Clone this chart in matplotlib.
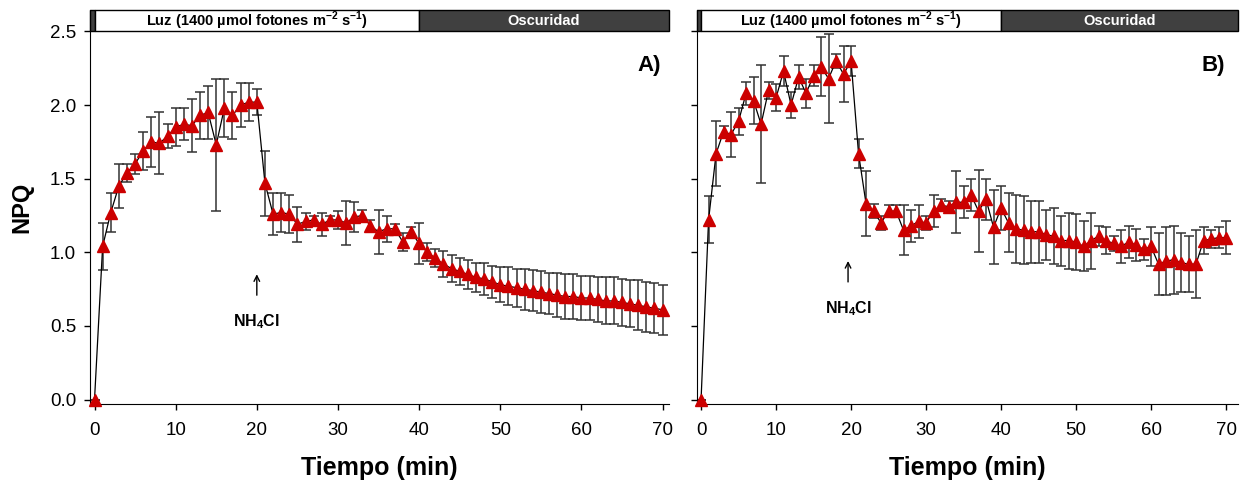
import numpy as np
import matplotlib.pyplot as plt
from matplotlib.patches import Rectangle

plt.rcParams['font.family'] = ['Liberation Sans', 'DejaVu Sans']
plt.rcParams['mathtext.fontset'] = 'custom'
plt.rcParams['mathtext.rm'] = 'Liberation Sans'
plt.rcParams['mathtext.bf'] = 'Liberation Sans:bold'

# time (min), one reading per minute
tiempo = list(range(71))

# Panel A
npq_a = [0.00, 1.04, 1.27, 1.45, 1.54, 1.60, 1.69, 1.75, 1.74, 1.79,
         1.85, 1.87, 1.86, 1.93, 1.95, 1.73, 1.98, 1.93, 2.00, 2.02,
         2.02, 1.47, 1.26, 1.27, 1.26, 1.19, 1.21, 1.22, 1.19, 1.22,
         1.22, 1.20, 1.24, 1.25, 1.18, 1.14, 1.16, 1.16, 1.07, 1.14,
         1.06, 1.00, 0.96, 0.92, 0.89, 0.87, 0.85, 0.83, 0.82, 0.80,
         0.78, 0.77, 0.76, 0.75, 0.74, 0.73, 0.72, 0.71, 0.70, 0.70,
         0.69, 0.69, 0.68, 0.67, 0.67, 0.66, 0.65, 0.64, 0.63, 0.62,
         0.61]
err_a = [0.00, 0.16, 0.13, 0.15, 0.06, 0.07, 0.13, 0.17, 0.21, 0.08,
         0.13, 0.11, 0.18, 0.16, 0.18, 0.45, 0.20, 0.16, 0.15, 0.13,
         0.09, 0.22, 0.14, 0.13, 0.13, 0.12, 0.06, 0.03, 0.08, 0.03,
         0.06, 0.15, 0.10, 0.04, 0.04, 0.15, 0.09, 0.03, 0.06, 0.03,
         0.14, 0.06, 0.06, 0.09, 0.09, 0.09, 0.10, 0.10, 0.11, 0.11,
         0.12, 0.13, 0.13, 0.14, 0.14, 0.14, 0.14, 0.15, 0.15, 0.15,
         0.15, 0.15, 0.15, 0.16, 0.16, 0.16, 0.16, 0.17, 0.17, 0.17,
         0.17]

# Panel B
npq_b = [0.00, 1.22, 1.67, 1.82, 1.80, 1.89, 2.08, 2.03, 1.87, 2.10,
         2.05, 2.23, 2.00, 2.19, 2.08, 2.20, 2.26, 2.18, 2.30, 2.21,
         2.30, 1.67, 1.33, 1.28, 1.20, 1.28, 1.28, 1.15, 1.18, 1.21,
         1.20, 1.28, 1.32, 1.31, 1.34, 1.34, 1.39, 1.28, 1.36, 1.17,
         1.30, 1.20, 1.16, 1.15, 1.14, 1.14, 1.12, 1.11, 1.08, 1.08,
         1.07, 1.04, 1.08, 1.11, 1.08, 1.06, 1.04, 1.07, 1.05, 1.02,
         1.04, 0.92, 0.94, 0.95, 0.93, 0.92, 0.92, 1.08, 1.09, 1.10,
         1.10]
err_b = [0.00, 0.16, 0.22, 0.04, 0.15, 0.09, 0.08, 0.16, 0.40, 0.06,
         0.09, 0.10, 0.09, 0.08, 0.10, 0.07, 0.20, 0.30, 0.05, 0.19,
         0.10, 0.10, 0.22, 0.05, 0.05, 0.04, 0.04, 0.17, 0.11, 0.11,
         0.05, 0.11, 0.04, 0.04, 0.21, 0.11, 0.11, 0.28, 0.14, 0.25,
         0.15, 0.20, 0.23, 0.23, 0.21, 0.21, 0.17, 0.19, 0.17, 0.19,
         0.19, 0.17, 0.19, 0.07, 0.09, 0.05, 0.11, 0.11, 0.11, 0.07,
         0.13, 0.21, 0.23, 0.23, 0.20, 0.19, 0.23, 0.09, 0.06, 0.07,
         0.11]

luz_label = r'Luz (1400 µmol fotones m$^{\mathbf{-2}}$ s$^{\mathbf{-1}}$)'
osc_label = 'Oscuridad'
yticks = [0.0, 0.5, 1.0, 1.5, 2.0, 2.5]
xticks = [0, 10, 20, 30, 40, 50, 60, 70]

fig = plt.figure(figsize=(12.49, 4.9), dpi=100)
ax_a = fig.add_axes([0.0721, 0.1755, 0.4636, 0.8039])
ax_b = fig.add_axes([0.558, 0.1755, 0.4332, 0.8039])


def draw_panel(ax, y, err, letter, xmax, arrow_x, arrow_tip):
    xmin = -0.55
    ax.errorbar(tiempo, y, yerr=err, fmt='none', ecolor='#333333',
                elinewidth=1.1, capsize=3.5, capthick=1.1, zorder=2)
    ax.plot(tiempo, y, '-', color='black', lw=0.9, zorder=3)
    ax.plot(tiempo, y, '^', color='#cc0000', mec='#cc0000', ms=9,
            zorder=4, clip_on=False)

    ax.set_xlim(xmin, xmax)
    ax.set_ylim(-0.03, 2.645)
    ax.set_xticks(xticks)
    ax.set_yticks(yticks)
    ax.set_yticklabels(['%.1f' % v for v in yticks])
    ax.spines['top'].set_visible(False)
    ax.spines['right'].set_visible(False)
    ax.tick_params(direction='out', length=4, width=1, labelsize=13.5)
    ax.tick_params(axis='x', pad=9)
    ax.tick_params(axis='y', pad=6)
    ax.set_xlabel('Tiempo (min)', fontsize=18, fontweight='bold', labelpad=12)

    # light / dark bar along the top
    b0, b1 = 2.505, 2.643
    ax.add_patch(Rectangle((xmin, b0), 0 - xmin, b1 - b0, facecolor='#404040',
                           edgecolor='black', lw=1, zorder=5, clip_on=False))
    ax.add_patch(Rectangle((0, b0), 40, b1 - b0, facecolor='white',
                           edgecolor='black', lw=1, zorder=5, clip_on=False))
    ax.add_patch(Rectangle((40, b0), xmax - 40, b1 - b0, facecolor='#404040',
                           edgecolor='black', lw=1, zorder=5, clip_on=False))
    ax.text(20, (b0 + b1) / 2, luz_label, ha='center', va='center',
            fontsize=10.5, fontweight='bold', zorder=6)
    ax.text((40 + xmax) / 2, (b0 + b1) / 2, osc_label, ha='center', va='center',
            fontsize=10.5, fontweight='bold', color='white', zorder=6)

    ax.text(68.3, 2.27, letter, ha='center', va='center', fontsize=16,
            fontweight='bold')
    ax.annotate('', xy=(arrow_x, arrow_tip), xytext=(arrow_x, arrow_tip - 0.18),
                arrowprops=dict(arrowstyle='->', color='black', lw=1))
    ax.text(arrow_x, arrow_tip - 0.34, r'NH$_{\mathbf{4}}$Cl', ha='center',
            va='center', fontsize=11.5, fontweight='bold')


draw_panel(ax_a, npq_a, err_a, 'A)', 70.8, 20, 0.87)
draw_panel(ax_b, npq_b, err_b, 'B)', 71.6, 19.6, 0.96)
ax_a.set_ylabel('NPQ', fontsize=17, fontweight='bold', labelpad=12)
ax_b.tick_params(axis='y', labelleft=False)

fig.savefig('out.png', dpi=100)
